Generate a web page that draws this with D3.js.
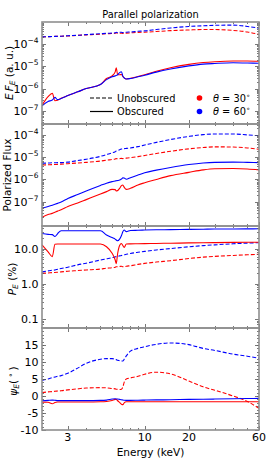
<!DOCTYPE html>
<html><head><meta charset="utf-8">
<script src="https://cdn.jsdelivr.net/npm/d3@7"></script>
<style>body{margin:0;background:#fff}svg{display:block}text{font-family:"DejaVu Sans",sans-serif;fill:#000}</style>
</head><body><svg id="c" width="273" height="468"></svg>
<script>
// ---- data ----
const energy = [2.0, 2.2, 2.35, 2.45, 2.55, 2.7, 3.0, 3.5, 4.0, 5.0, 5.5, 6.0, 6.3, 6.4, 6.55, 6.75, 6.95, 7.1, 7.25, 7.5, 8.0, 9.0, 10, 12, 15, 20, 25, 30, 40, 50, 60];

// Panel 1: E F_E (a. u.)
const fluxUnobs30 = [2.14e-4, 2.19e-4, 2.21e-4, 2.24e-4, 2.26e-4, 2.29e-4, 2.34e-4, 2.51e-4, 2.63e-4, 2.82e-4, 2.95e-4, 3.02e-4, 3.09e-4, 3.24e-4, 3.09e-4, 3.09e-4, 3.16e-4, 3.02e-4, 3.09e-4, 3.16e-4, 3.24e-4, 3.39e-4, 3.47e-4, 3.72e-4, 4.07e-4, 4.37e-4, 4.57e-4, 4.57e-4, 4.17e-4, 3.55e-4, 2.75e-4];
const fluxUnobs60 = [2.14e-4, 2.19e-4, 2.21e-4, 2.24e-4, 2.26e-4, 2.29e-4, 2.40e-4, 2.51e-4, 2.69e-4, 2.95e-4, 3.09e-4, 3.16e-4, 3.24e-4, 3.39e-4, 3.31e-4, 3.39e-4, 3.47e-4, 3.31e-4, 3.39e-4, 3.47e-4, 3.55e-4, 3.80e-4, 3.98e-4, 4.57e-4, 5.37e-4, 6.31e-4, 6.76e-4, 7.08e-4, 7.24e-4, 6.31e-4, 5.25e-4];
const fluxObs30 = [1.74e-7, 4.27e-7, 6.03e-7, 2.82e-7, 2.95e-7, 3.63e-7, 4.79e-7, 7.08e-7, 1.0e-6, 1.51e-6, 2.82e-6, 3.72e-6, 5.62e-6, 8.71e-6, 4.17e-6, 4.17e-6, 4.27e-6, 3.55e-6, 3.02e-6, 2.69e-6, 2.88e-6, 3.47e-6, 4.17e-6, 6.03e-6, 8.71e-6, 1.23e-5, 1.48e-5, 1.62e-5, 1.74e-5, 1.74e-5, 1.70e-5];
const fluxObs60 = [1.66e-7, 2.63e-7, 3.02e-7, 3.98e-7, 3.16e-7, 3.55e-7, 4.79e-7, 7.08e-7, 1.0e-6, 1.51e-6, 2.51e-6, 3.39e-6, 3.72e-6, 3.89e-6, 4.17e-6, 5.25e-6, 5.75e-6, 3.63e-6, 3.02e-6, 2.69e-6, 2.82e-6, 3.39e-6, 3.98e-6, 5.50e-6, 7.59e-6, 1.05e-5, 1.26e-5, 1.35e-5, 1.45e-5, 1.41e-5, 1.38e-5];

// Panel 2: Polarized Flux
const polFluxUnobs30 = [4.47e-6, 4.57e-6, 4.68e-6, 4.68e-6, 4.79e-6, 4.90e-6, 5.13e-6, 5.50e-6, 5.89e-6, 6.76e-6, 7.41e-6, 7.94e-6, 8.32e-6, 8.71e-6, 8.51e-6, 8.71e-6, 8.91e-6, 8.71e-6, 8.91e-6, 9.12e-6, 9.55e-6, 1.07e-5, 1.20e-5, 1.48e-5, 1.86e-5, 2.40e-5, 2.75e-5, 2.95e-5, 2.88e-5, 2.63e-5, 2.29e-5];
const polFluxUnobs60 = [5.37e-6, 5.50e-6, 5.62e-6, 5.62e-6, 5.75e-6, 5.75e-6, 6.03e-6, 7.08e-6, 8.13e-6, 1.10e-5, 1.32e-5, 1.58e-5, 1.78e-5, 1.91e-5, 2.00e-5, 2.19e-5, 2.34e-5, 2.40e-5, 2.45e-5, 2.51e-5, 2.63e-5, 3.02e-5, 3.55e-5, 4.68e-5, 6.31e-5, 8.71e-5, 1.05e-4, 1.12e-4, 1.12e-4, 1.02e-4, 9.33e-5];
const polFluxObs30 = [1.95e-8, 2.63e-8, 2.95e-8, 3.31e-8, 3.72e-8, 4.27e-8, 6.03e-8, 8.71e-8, 1.23e-7, 2.19e-7, 2.82e-7, 3.55e-7, 3.47e-7, 3.02e-7, 3.16e-7, 3.98e-7, 5.25e-7, 5.62e-7, 4.47e-7, 3.55e-7, 3.98e-7, 5.62e-7, 7.08e-7, 1.00e-6, 1.48e-6, 2.09e-6, 2.69e-6, 3.02e-6, 3.09e-6, 2.95e-6, 2.69e-6];
const polFluxObs60 = [5.01e-8, 6.03e-8, 6.92e-8, 7.59e-8, 8.32e-8, 9.55e-8, 1.38e-7, 2.09e-7, 3.02e-7, 5.37e-7, 6.76e-7, 7.94e-7, 8.51e-7, 8.71e-7, 8.91e-7, 9.33e-7, 1.05e-6, 1.17e-6, 1.15e-6, 1.02e-6, 1.20e-6, 1.58e-6, 2.00e-6, 2.63e-6, 3.47e-6, 4.68e-6, 5.50e-6, 5.89e-6, 6.03e-6, 5.89e-6, 5.75e-6];

// Panel 3: P_E (%)
const polDegUnobs30 = [2.0, 2.05, 2.1, 2.12, 2.15, 2.2, 2.3, 2.4, 2.5, 2.65, 2.8, 2.9, 3.0, 3.1, 3.1, 3.15, 3.2, 3.1, 3.1, 3.2, 3.3, 3.6, 3.85, 4.2, 4.6, 5.3, 5.8, 6.1, 6.5, 6.8, 7.0];
const polDegUnobs60 = [2.2, 2.35, 2.45, 2.5, 2.6, 2.75, 3.0, 3.5, 3.9, 4.8, 5.2, 5.6, 5.9, 6.0, 6.1, 6.3, 6.5, 6.7, 6.8, 7.0, 7.4, 8.0, 8.5, 9.3, 10.2, 11.5, 12.4, 13.0, 14.0, 14.6, 15.0];
const polDegObs30 = [13.0, 8.2, 6.0, 13.5, 13.8, 13.8, 13.8, 13.8, 13.8, 13.8, 11.5, 7.5, 4.8, 3.8, 7.5, 12.5, 14.3, 12.5, 11.0, 13.8, 13.9, 14.0, 14.1, 14.3, 14.5, 14.8, 15.0, 15.1, 15.3, 15.4, 15.5];
const polDegObs60 = [27.5, 26.0, 25.5, 22.5, 27.0, 33.0, 33.0, 33.0, 33.0, 33.0, 25.0, 21.0, 19.0, 18.0, 17.0, 19.0, 24.0, 31.0, 34.5, 31.0, 33.5, 34.0, 34.5, 35.0, 35.5, 36.0, 36.5, 37.0, 37.0, 37.2, 37.4];

// Panel 4: psi_E (deg)
const polAngUnobs30 = [1.0, 1.2, 1.3, 1.4, 1.45, 1.55, 1.8, 2.1, 2.35, 2.45, 2.4, 2.2, 2.1, 2.0, 2.0, 1.9, 2.0, 2.6, 4.0, 5.0, 5.3, 5.8, 6.4, 7.0, 6.5, 4.4, 2.7, 1.7, 0.0, -1.6, -3.6];
const polAngUnobs60 = [4.6, 5.0, 5.4, 5.6, 5.8, 6.0, 6.7, 8.2, 9.6, 10.8, 11.0, 11.0, 10.8, 10.7, 10.5, 10.4, 10.3, 10.3, 10.8, 11.8, 13.2, 14.0, 14.5, 15.2, 15.6, 15.1, 14.0, 13.4, 12.3, 11.7, 11.1];
const polAngObs30 = [-1.8, -1.85, -2.3, -1.9, -1.75, -1.75, -1.75, -1.75, -1.75, -1.7, -1.6, -1.3, -1.0, -1.0, -1.4, -1.9, -2.4, -2.55, -2.0, -1.7, -1.7, -1.7, -1.7, -1.7, -1.7, -1.7, -1.7, -1.7, -1.7, -1.7, -1.7];
const polAngObs60 = [-1.4, -1.3, -1.2, -1.25, -1.35, -1.35, -1.35, -1.35, -1.35, -1.3, -1.2, -0.9, -0.8, -0.9, -0.9, -1.0, -1.1, -1.2, -1.25, -1.3, -1.3, -1.25, -1.2, -1.15, -1.1, -1.0, -0.95, -0.9, -0.8, -0.75, -0.7];

// ticks
const xTicks = [3, 10, 20, 60];
const xMinorTicks = [2, 4, 5, 6, 7, 8, 9, 30, 40, 50];
const powTicks = [1e-7, 1e-6, 1e-5, 1e-4];
const pctTicks = [0.1, 1.0, 10.0];
const angTicks = [-10, -5, 0, 5, 10, 15];

const RED = "#ff0000", BLUE = "#0000ff";

// ---- layout ----
const svg = d3.select("#c");
const L = 42, R = 259, ph = 102;
const tops = [22, 124, 226, 328];
const x = d3.scaleLog().domain([2, 60]).range([L, R]);

function logMinor(d0, d1) {
  const out = [];
  for (let e = Math.floor(Math.log10(d0)); e <= Math.ceil(Math.log10(d1)); e++) {
    for (let m = 2; m <= 9; m++) { const v = m * Math.pow(10, e); if (v >= d0 && v <= d1) out.push(v); }
  }
  return out;
}

const panels = [
  { y: d3.scaleLog().domain([Math.pow(10, -7.6), 1e-3]),
    series: [[fluxUnobs30, RED, true], [fluxUnobs60, BLUE, true], [fluxObs30, RED, false], [fluxObs60, BLUE, false]],
    majors: powTicks, kind: "pow" },
  { y: d3.scaleLog().domain([Math.pow(10, -8.1), Math.pow(10, -3.5)]),
    series: [[polFluxUnobs30, RED, true], [polFluxUnobs60, BLUE, true], [polFluxObs30, RED, false], [polFluxObs60, BLUE, false]],
    majors: powTicks, kind: "pow" },
  { y: d3.scaleLog().domain([0.055, 45]),
    series: [[polDegUnobs30, RED, true], [polDegUnobs60, BLUE, true], [polDegObs30, RED, false], [polDegObs60, BLUE, false]],
    majors: pctTicks, kind: "pct" },
  { y: d3.scaleLinear().domain([-10, 20]),
    series: [[polAngUnobs30, RED, true], [polAngUnobs60, BLUE, true], [polAngObs30, RED, false], [polAngObs60, BLUE, false]],
    majors: angTicks, kind: "lin" }
];

const defs = svg.append("defs");

panels.forEach((p, i) => {
  const top = tops[i], bot = top + ph;
  const y = p.y.range([bot, top]);
  const g = svg.append("g");
  defs.append("clipPath").attr("id", "clip" + i)
    .append("rect").attr("x", L).attr("y", top).attr("width", R - L).attr("height", ph);

  const line = d3.line().x(d => x(d[0])).y(d => y(d[1])).curve(d3.curveMonotoneX);
  const lg = g.append("g").attr("clip-path", `url(#clip${i})`);
  p.series.forEach(([vals, col, dashed]) => {
    lg.append("path").datum(d3.zip(energy, vals))
      .attr("d", line).attr("fill", "none").attr("stroke", col)
      .attr("stroke-width", 1.1)
      .attr("stroke-dasharray", dashed ? "4,2" : null);
  });

  // ticks
  const tk = g.append("g").attr("stroke", "#555").attr("stroke-width", 0.8);
  const yMin = p.kind === "lin" ? d3.range(-10, 20.01, 1) : logMinor(...y.domain());
  yMin.forEach(v => {
    const yy = Math.round(y(v)) + 0.5;
    if (yy <= top + 0.6 || yy >= bot - 0.6) return;
    tk.append("line").attr("x1", L).attr("x2", L + 2).attr("y1", yy).attr("y2", yy);
    tk.append("line").attr("x1", R - 2).attr("x2", R).attr("y1", yy).attr("y2", yy);
  });
  p.majors.forEach(v => {
    const yy = Math.round(y(v)) + 0.5;
    tk.append("line").attr("x1", L).attr("x2", L + 4).attr("y1", yy).attr("y2", yy);
    tk.append("line").attr("x1", R - 4).attr("x2", R).attr("y1", yy).attr("y2", yy);
  });
  xMinorTicks.forEach(v => {
    const xx = Math.round(x(v)) + 0.5;
    if (xx <= L + 0.6 || xx >= R - 0.6) return;
    tk.append("line").attr("x1", xx).attr("x2", xx).attr("y1", top).attr("y2", top + 2);
    tk.append("line").attr("x1", xx).attr("x2", xx).attr("y1", bot - 2).attr("y2", bot);
  });
  xTicks.forEach(v => {
    const xx = Math.round(x(v)) + 0.5;
    tk.append("line").attr("x1", xx).attr("x2", xx).attr("y1", top).attr("y2", top + 4);
    tk.append("line").attr("x1", xx).attr("x2", xx).attr("y1", bot - 4).attr("y2", bot);
  });

  // y tick labels
  p.majors.forEach(v => {
    const yy = y(v);
    const t = g.append("text").attr("x", 38.5).attr("y", yy + 4).attr("text-anchor", "end")
      .attr("font-size", 11);
    if (p.kind === "pow") {
      t.append("tspan").text("10");
      t.append("tspan").attr("dy", -5).attr("font-size", 7.5).text("\u2212" + Math.round(-Math.log10(v)));
    } else if (p.kind === "pct") {
      t.text(d3.format(".1f")(v));
    } else {
      t.text(v < 0 ? "-" + Math.abs(v) : String(v));
    }
  });

  // frame
  g.append("rect").attr("x", L).attr("y", top).attr("width", R - L).attr("height", ph)
    .attr("fill", "none").attr("stroke", "#8f8f8f").attr("stroke-width", 1.6);
});

// x tick labels (bottom)
xTicks.forEach(v => {
  svg.append("text").attr("x", x(v)).attr("y", 441).attr("text-anchor", "middle")
    .attr("font-size", 11).text(String(v));
});
svg.append("text").attr("x", 150.5).attr("y", 456).attr("text-anchor", "middle")
  .attr("font-size", 10.5).text("Energy (keV)");

// title
svg.append("text").attr("x", 150.5).attr("y", 18).attr("text-anchor", "middle")
  .attr("font-size", 9.8).text("Parallel polarization");

// y axis labels
function ylab(xp, yp) {
  return svg.append("text").attr("transform", `translate(${xp},${yp}) rotate(-90)`)
    .attr("text-anchor", "middle").attr("font-size", 10.5);
}
let t1 = ylab(12.5, 73);
t1.append("tspan").attr("font-style", "italic").text("E\u2009F");
t1.append("tspan").attr("font-style", "italic").attr("font-size", 7.5).attr("dy", 2.2).text("E");
t1.append("tspan").attr("dy", -2.2).text(" (a. u.)");
let t2 = ylab(11, 175);
t2.text("Polarized Flux");
let t3 = ylab(15.5, 279);
t3.append("tspan").attr("font-style", "italic").text("P");
t3.append("tspan").attr("font-style", "italic").attr("font-size", 7.5).attr("dy", 2.2).text("E");
t3.append("tspan").attr("dy", -2.2).text(" (%)");
let t4 = ylab(16.5, 381);
t4.append("tspan").attr("font-style", "italic").text("\u03c8");
t4.append("tspan").attr("font-style", "italic").attr("font-size", 7.5).attr("dy", 2.2).text("E");
t4.append("tspan").attr("dy", -2.2).text("(");
t4.append("tspan").attr("dy", -4).attr("font-size", 7.5).text(" \u2218 ");
t4.append("tspan").attr("dy", 4).text(")");

// legend
const leg = svg.append("g");
[["Unobscured", true, 98], ["Obscured", false, 111.5]].forEach(([lab, dashed, yy]) => {
  leg.append("line").attr("x1", 90).attr("x2", 113).attr("y1", yy).attr("y2", yy)
    .attr("stroke", "#000").attr("stroke-width", 1.2).attr("stroke-dasharray", dashed ? "4,2" : null);
  leg.append("text").attr("x", 117).attr("y", yy + 3.5).attr("font-size", 9.8).text(lab);
});
[["30", RED, 98], ["60", BLUE, 111.5]].forEach(([ang, col, yy]) => {
  leg.append("circle").attr("cx", 199.5).attr("cy", yy).attr("r", 2.8).attr("fill", col);
  const t = leg.append("text").attr("x", 213).attr("y", yy + 3.5).attr("font-size", 9.8);
  t.append("tspan").attr("font-style", "italic").text("\u03b8");
  t.append("tspan").text(" = " + ang);
  t.append("tspan").attr("dy", -4).attr("font-size", 7).text("\u2218");
});
</script></body></html>
